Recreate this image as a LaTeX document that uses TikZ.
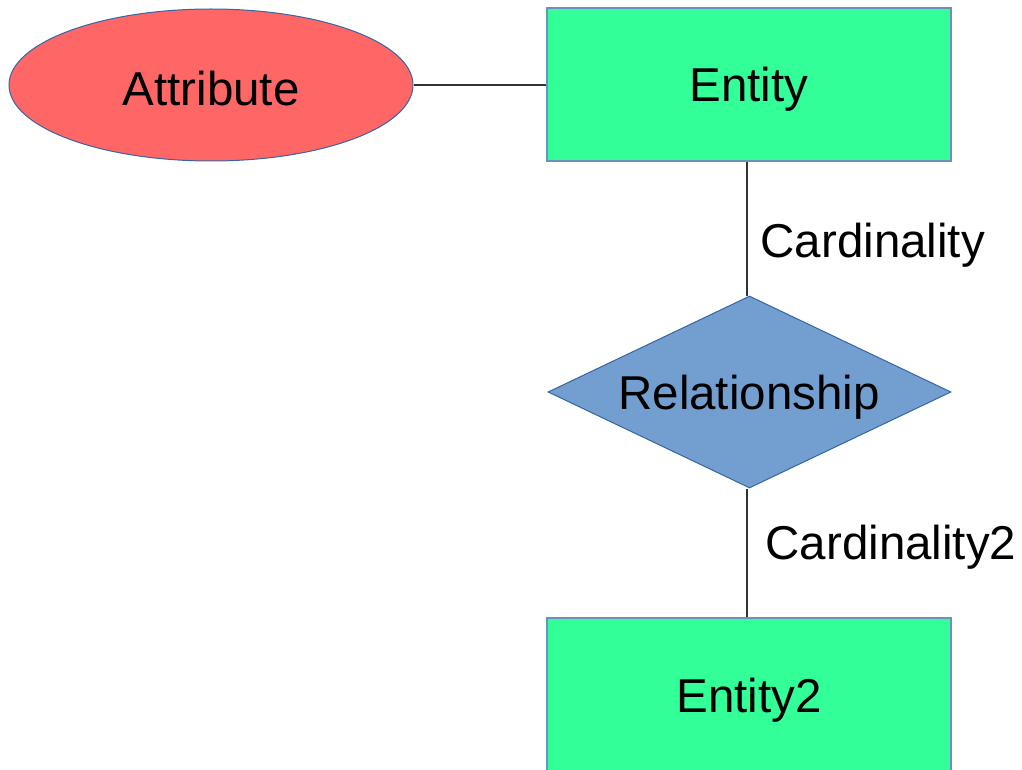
\documentclass[tikz,border=0pt]{standalone}
\usepackage{fontspec}
\setmainfont{Liberation Sans}
\usetikzlibrary{shapes.geometric}
\definecolor{entgreen}{HTML}{33FF99}
\definecolor{attred}{HTML}{FF6666}
\definecolor{relblue}{HTML}{729FCF}
\definecolor{edgeblue}{HTML}{3465A4}
\definecolor{entedge}{HTML}{6F8FBF}
\tikzset{
  lbl/.style={font=\fontsize{47.5}{56}\selectfont, text=black},
  entitybox/.style={draw=entedge, line width=1.5pt, fill=entgreen, minimum width=404pt, minimum height=153pt, inner sep=0pt},
  attrell/.style={ellipse, draw=edgeblue, line width=1pt, fill=attred, minimum width=404pt, minimum height=152pt, inner sep=0pt},
  reldia/.style={diamond, draw=edgeblue, line width=1pt, fill=relblue, minimum width=403pt, minimum height=192pt, inner sep=0pt, aspect=2.1},
  conn/.style={draw=black!80, line width=1.3pt}
}
\begin{document}
\begin{tikzpicture}[x=1pt,y=-1pt]
\useasboundingbox (0,0) rectangle (1022,770);
\clip (0,0) rectangle (1022,770);
\node[attrell] (attr) at (211,85) {};
\node[lbl] at (211,89) {Attribute};
\node[entitybox] (ent) at (749,84.5) {};
\node[lbl] at (749,89) {Entity};
\node[reldia] (rel) at (749.5,392) {};
\node[lbl] at (749,397) {Relationship};
\node[entitybox, minimum height=182pt] (ent2) at (749,709) {};
\node[lbl] at (749,700) {Entity2};
\draw[conn] (attr.east) -- (attr.east -| ent.west);
\draw[conn] (ent.south -| 747,0) -- (rel.north -| 747,0);
\draw[conn] (rel.south -| 747,0) -- (ent2.north -| 747,0);
\node[lbl, anchor=west] (c1) at (757,245) {Cardinality};
\node[lbl, anchor=west] (c2) at (762,547) {Cardinality2};
\end{tikzpicture}
\end{document}
